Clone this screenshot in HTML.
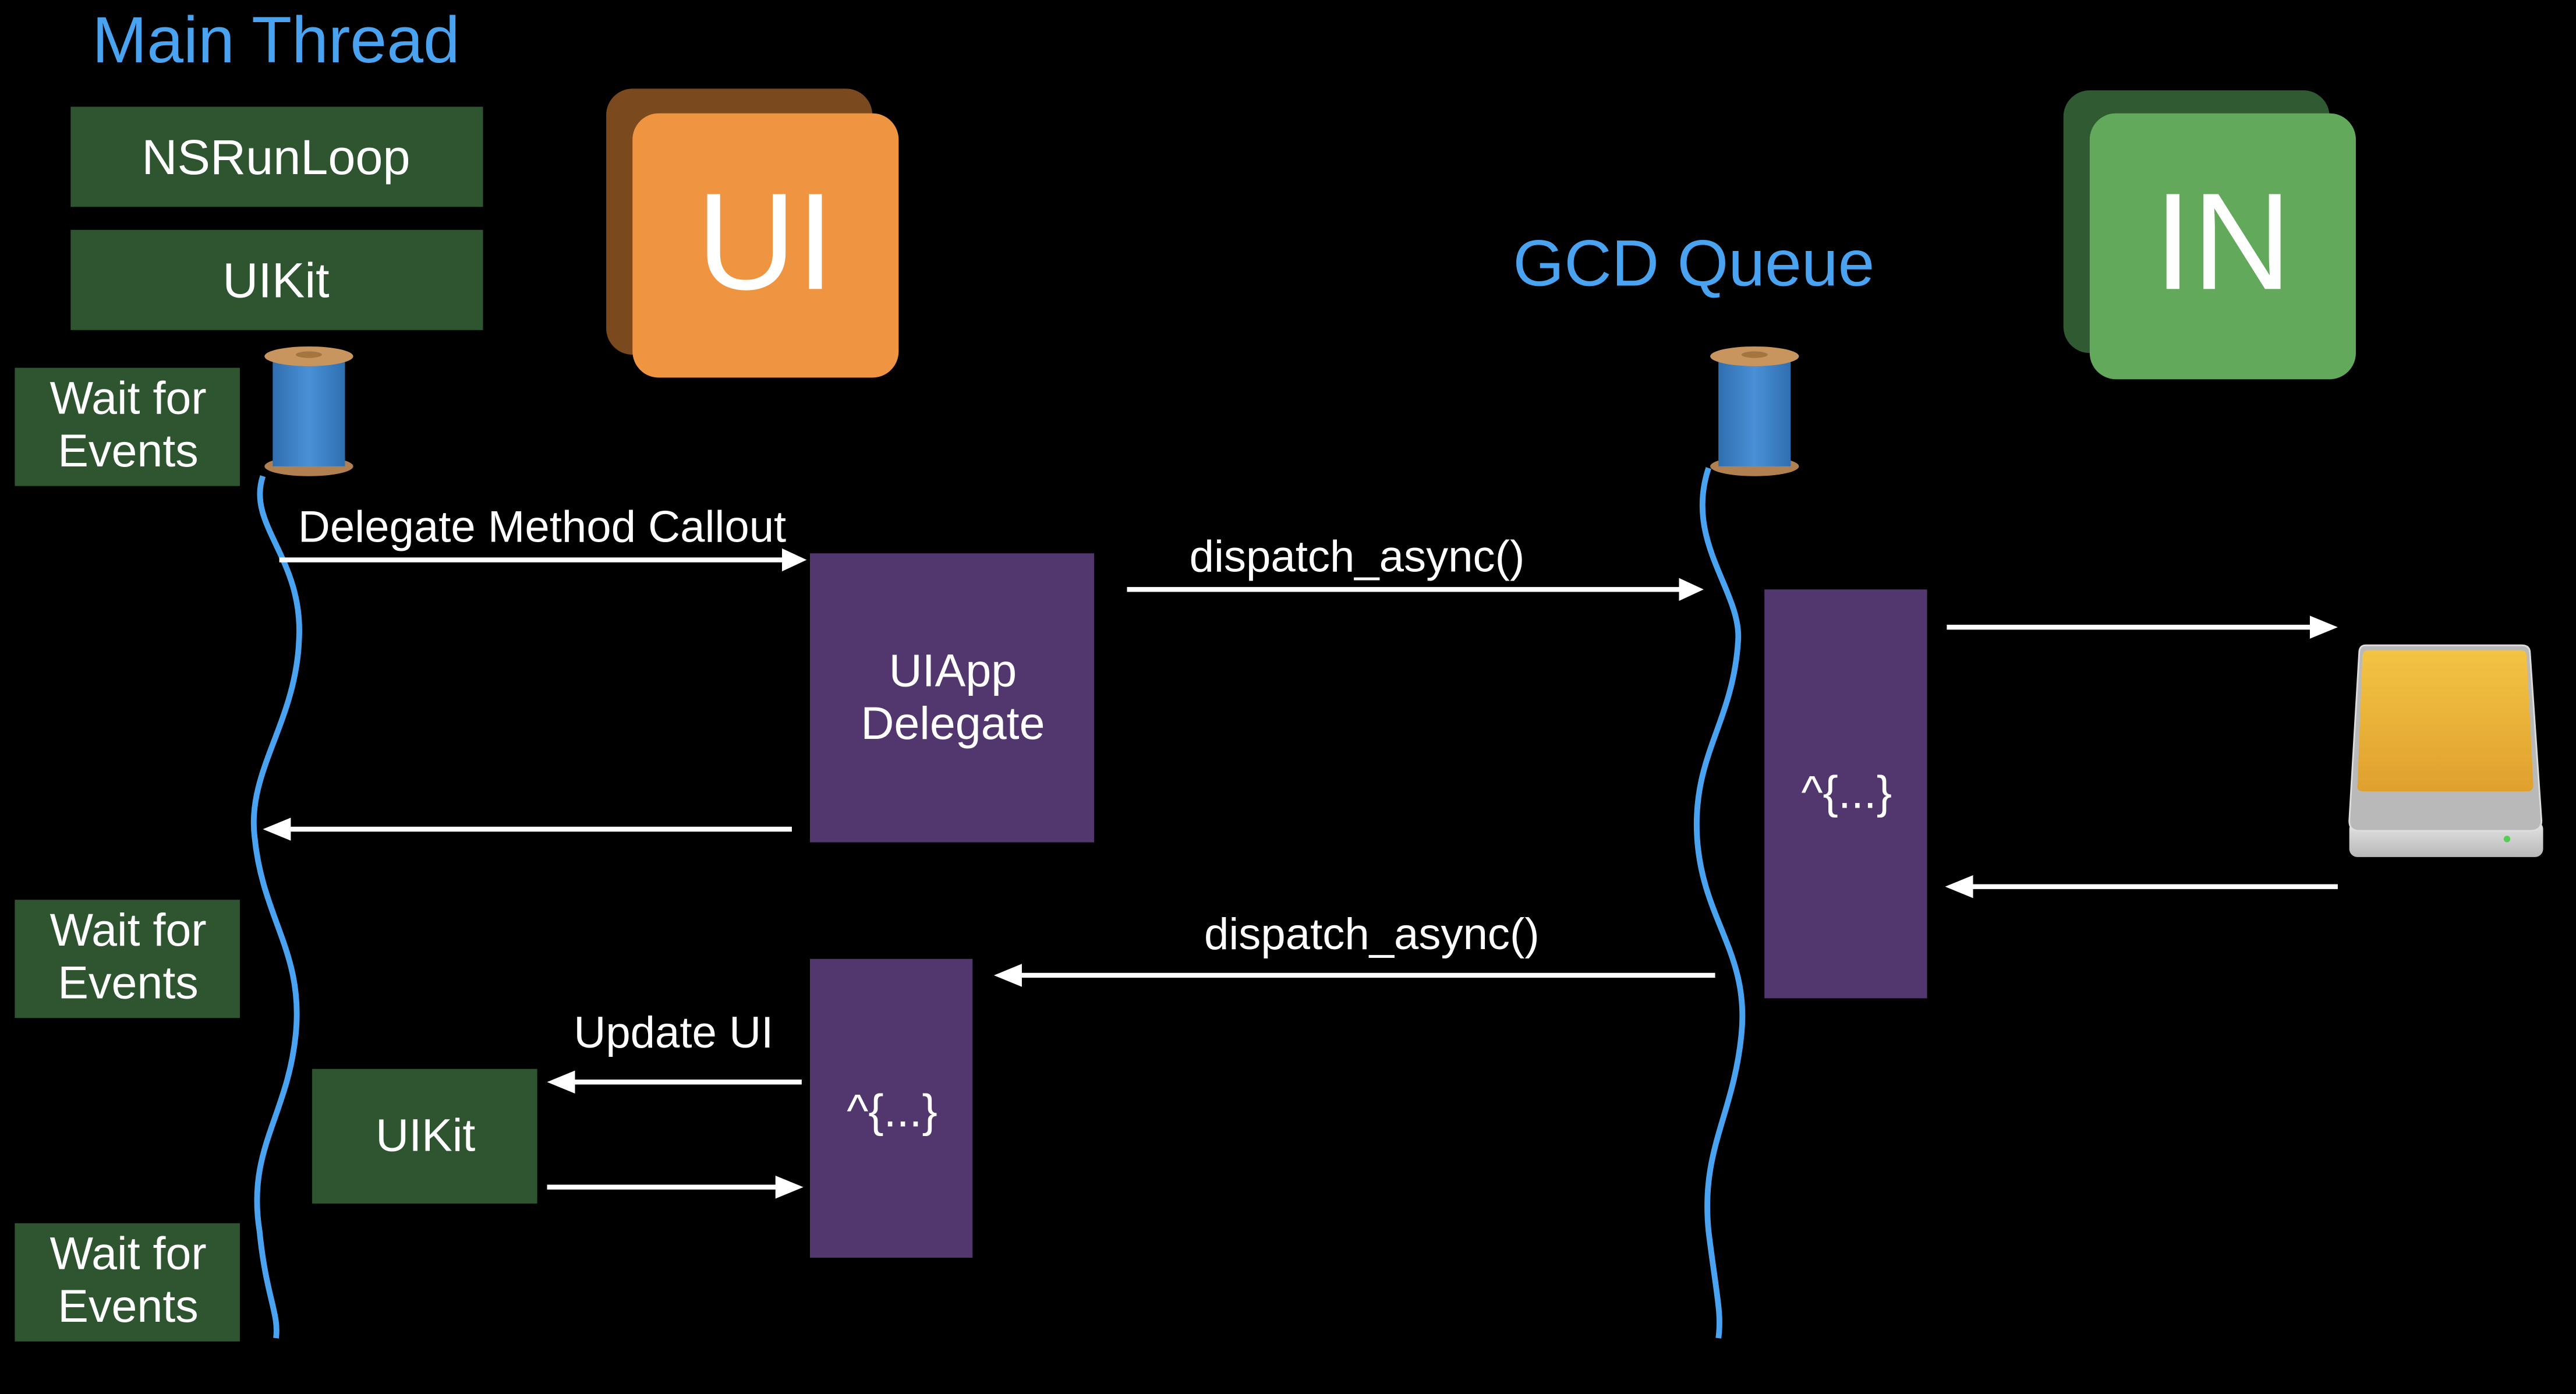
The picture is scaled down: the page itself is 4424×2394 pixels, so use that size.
<!DOCTYPE html>
<html><head><meta charset="utf-8"><style>
html,body{margin:0;padding:0;background:#000;}
svg{display:block;}
text{font-family:"Liberation Sans",sans-serif;}
</style></head><body>
<svg width="4424" height="2394" viewBox="0 0 1568 849" preserveAspectRatio="none" xmlns="http://www.w3.org/2000/svg">
<defs>
<linearGradient id="sp" x1="0" x2="1"><stop offset="0" stop-color="#2f6fb0"/><stop offset="0.5" stop-color="#4a90d6"/><stop offset="1" stop-color="#2f6fb0"/></linearGradient>
<linearGradient id="dr" x1="0" y1="0" x2="0" y2="1"><stop offset="0" stop-color="#f3c444"/><stop offset="1" stop-color="#e0a02e"/></linearGradient>
<linearGradient id="sv" x1="0" y1="0" x2="0" y2="1"><stop offset="0" stop-color="#e6e6e6"/><stop offset="1" stop-color="#b8b8b8"/></linearGradient>
<g id="spool">
<ellipse cx="0" cy="72" rx="27" ry="6" fill="#b08050"/>
<rect x="-22" y="6" width="44" height="66" fill="url(#sp)"/>
<ellipse cx="0" cy="5" rx="27" ry="6" fill="#c8955e"/>
<ellipse cx="0" cy="4" rx="8" ry="2" fill="#a57540"/>
</g>
</defs>
<rect width="1568" height="849" fill="#000"/>
<text x="168" y="38" fill="#4aa3f0" font-size="40" text-anchor="middle">Main Thread</text>
<rect x="43" y="65" width="251" height="61" fill="#2e5530"/>
<text x="168" y="106" fill="#fff" font-size="30" text-anchor="middle">NSRunLoop</text>
<rect x="43" y="140" width="251" height="61" fill="#2e5530"/>
<text x="168" y="181" fill="#fff" font-size="30" text-anchor="middle">UIKit</text>
<rect x="369" y="54" width="162" height="162" rx="16" fill="#7a4a1e"/>
<rect x="385" y="69" width="162" height="161" rx="16" fill="#ef9541"/>
<text x="466" y="176" fill="#fff" font-size="84" text-anchor="middle">UI</text>
<text x="1031" y="174" fill="#4aa3f0" font-size="40" text-anchor="middle">GCD Queue</text>
<rect x="1256" y="55" width="162" height="160" rx="16" fill="#305a32"/>
<rect x="1272" y="69" width="162" height="162" rx="16" fill="#63a95c"/>
<text x="1353" y="176" fill="#fff" font-size="84" text-anchor="middle">IN</text>
<path d="M160,290 C150,320 185,340 182,390 C180,440 150,470 155,510 C160,560 185,580 180,630 C175,680 150,700 158,750 C162,790 170,800 168,815" fill="none" stroke="#4aa3f0" stroke-width="3.5"/>
<path d="M1040,285 C1025,330 1060,360 1058,390 C1055,440 1030,460 1033,510 C1036,560 1065,580 1060,630 C1055,680 1035,700 1040,750 C1045,790 1048,800 1046,815" fill="none" stroke="#4aa3f0" stroke-width="3.5"/>
<use href="#spool" x="188" y="212"/>
<use href="#spool" x="1068" y="212"/>
<rect x="9" y="224" width="137" height="72" fill="#2e5530"/>
<text x="78" y="252" fill="#fff" font-size="28" text-anchor="middle">Wait for</text>
<text x="78" y="284" fill="#fff" font-size="28" text-anchor="middle">Events</text>
<rect x="9" y="548" width="137" height="72" fill="#2e5530"/>
<text x="78" y="576" fill="#fff" font-size="28" text-anchor="middle">Wait for</text>
<text x="78" y="608" fill="#fff" font-size="28" text-anchor="middle">Events</text>
<rect x="9" y="745" width="137" height="72" fill="#2e5530"/>
<text x="78" y="773" fill="#fff" font-size="28" text-anchor="middle">Wait for</text>
<text x="78" y="805" fill="#fff" font-size="28" text-anchor="middle">Events</text>
<rect x="190" y="651" width="137" height="82" fill="#2e5530"/>
<text x="259" y="701" fill="#fff" font-size="28" text-anchor="middle">UIKit</text>
<rect x="493" y="337" width="173" height="176" fill="#52366e"/>
<text x="580" y="418" fill="#fff" font-size="28" text-anchor="middle">UIApp</text>
<text x="580" y="450" fill="#fff" font-size="28" text-anchor="middle">Delegate</text>
<rect x="1074" y="359" width="99" height="249" fill="#52366e"/>
<text x="1124" y="492" fill="#fff" font-size="28" text-anchor="middle">^{...}</text>
<rect x="493" y="584" width="99" height="182" fill="#52366e"/>
<text x="543" y="686" fill="#fff" font-size="28" text-anchor="middle">^{...}</text>
<g fill="#fff" font-size="27" text-anchor="middle">
<text x="330" y="330">Delegate Method Callout</text>
<text x="826" y="348">dispatch_async()</text>
<text x="835" y="578">dispatch_async()</text>
<text x="410" y="638">Update UI</text>
</g>
<g stroke="#fff" stroke-width="3">
<line x1="170" y1="341" x2="478" y2="341"/>
<line x1="686" y1="359" x2="1024" y2="359"/>
<line x1="1185" y1="382" x2="1408" y2="382"/>
<line x1="176" y1="505" x2="482" y2="505"/>
<line x1="1200" y1="540" x2="1423" y2="540"/>
<line x1="620" y1="594" x2="1044" y2="594"/>
<line x1="348" y1="659" x2="488" y2="659"/>
<line x1="333" y1="723" x2="474" y2="723"/>
</g>
<g fill="#fff">
<polygon points="491,341 476,334 476,348"/>
<polygon points="1037,359 1022,352 1022,366"/>
<polygon points="1423,382 1406,375 1406,389"/>
<polygon points="160,505 177,498 177,512"/>
<polygon points="1184,540 1201,533 1201,547"/>
<polygon points="605,594 622,587 622,601"/>
<polygon points="333,659 350,652 350,666"/>
<polygon points="489,723 472,716 472,730"/>
</g>
<rect x="1430" y="500" width="118" height="22" rx="5" fill="url(#sv)"/>
<path d="M1440,393 H1535 Q1540,393 1540,398 L1547,500 Q1547,506 1540,506 H1436 Q1430,506 1430,500 L1436,398 Q1436,393 1440,393 Z" fill="#b9b9b9" stroke="#ddd" stroke-width="1"/>
<path d="M1442,396 H1534 Q1538,396 1538,400 L1542,478 Q1542,482 1538,482 H1439 Q1434,482 1435,478 L1438,400 Q1438,396 1442,396 Z" fill="url(#dr)"/>
<circle cx="1526" cy="511" r="2" fill="#5c5"/>
</svg>
</body></html>
